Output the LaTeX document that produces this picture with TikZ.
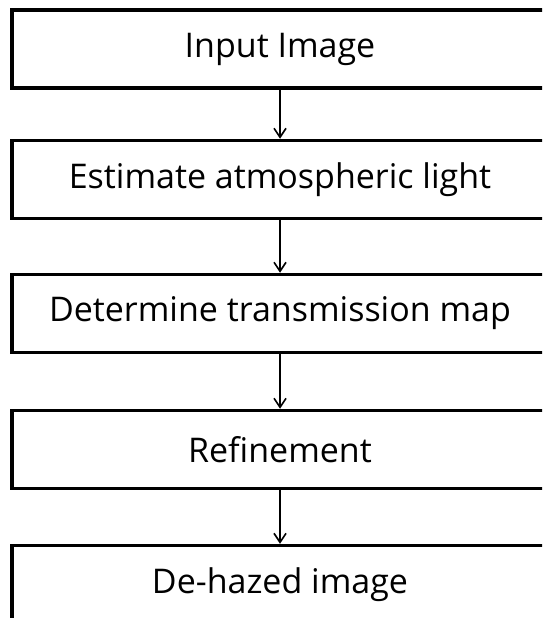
\documentclass[tikz,border=0pt]{standalone}
\usepackage{fontspec}
\setmainfont{Open Sans}
\usetikzlibrary{arrows.meta}

\tikzset{
  stagebox/.style={draw=black, line width=3.5pt, rectangle,
    minimum width=536pt, minimum height=78pt, inner sep=0pt,
    font=\fontsize{34}{40}\selectfont},
  flow/.style={draw=black, line width=1.8pt,
    -{Straight Barb[length=9pt,width=12pt,line width=1.6pt]}}
}

\begin{document}
\begin{tikzpicture}[x=1pt, y=-1pt]
  \useasboundingbox (0,0) rectangle (542,618);
  \fill[white] (0,0) rectangle (542,618);
  \begin{scope}
    \clip (0,0) rectangle (542,618);
    \node[stagebox] (input)   at (280,49)    {Input Image};
    \node[stagebox] (atmos)   at (280,179.5) {Estimate atmospheric light};
    \node[stagebox] (trans)   at (280,313.5) {Determine transmission map};
    \node[stagebox] (refine)  at (280,449.5) {Refinement};
    \node[stagebox] (dehazed) at (280,584.5) {De-hazed image};

    \draw[flow] (input.south)  -- (atmos.north);
    \draw[flow] (atmos.south)  -- (trans.north);
    \draw[flow] (trans.south)  -- (refine.north);
    \draw[flow] (refine.south) -- (dehazed.north);
  \end{scope}
\end{tikzpicture}
\end{document}
